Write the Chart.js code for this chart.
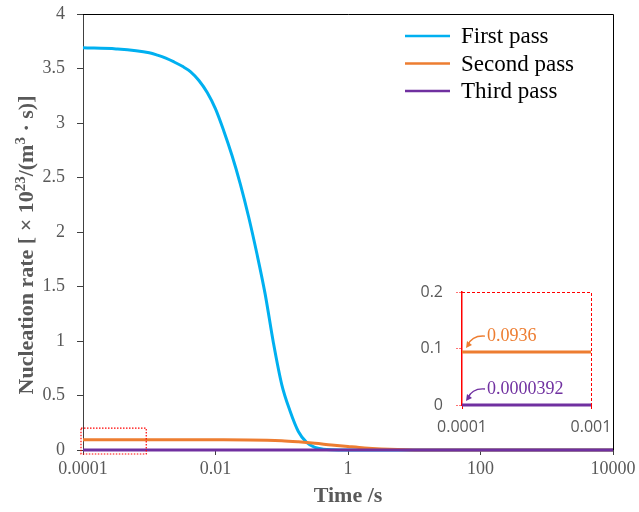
<!DOCTYPE html>
<html>
<head>
<meta charset="utf-8">
<script src="https://cdn.jsdelivr.net/npm/chart.js@4.4.1/dist/chart.umd.min.js"></script>
<style>
  html, body { margin: 0; padding: 0; background: #fff; }
  #wrap { position: relative; width: 639px; height: 512px; }
  #wrap canvas { position: absolute; left: 0; top: 0; }
</style>
</head>
<body>
<div id="wrap">
  <canvas id="main" width="639" height="512"></canvas>
  <canvas id="inset" width="639" height="512"></canvas>
</div>
<script>
// Nucleation rate (×10^23 m^-3 s^-1) against time (s) for each pass
const firstTime = [0.0001, 0.000316, 0.001, 0.00133, 0.00178, 0.00237, 0.00316, 0.00422, 0.00562, 0.0075, 0.01, 0.0133, 0.0178, 0.0237, 0.0316, 0.0422, 0.0562, 0.075, 0.1, 0.133, 0.178, 0.237, 0.316, 0.422, 0.562, 1, 10, 100, 1000, 10000];
const firstRate = [3.69, 3.68, 3.645, 3.623, 3.595, 3.56, 3.52, 3.47, 3.39, 3.28, 3.13, 2.93, 2.70, 2.44, 2.14, 1.80, 1.43, 0.98, 0.60, 0.36, 0.17, 0.07, 0.025, 0.008, 0.002, 0, 0, 0, 0, 0];

const secondTime = [0.0001, 0.001, 0.01, 0.0316, 0.1, 0.178, 0.316, 0.562, 1, 1.78, 3.16, 5.62, 10, 31.6, 100, 1000, 10000];
const secondRate = [0.0936, 0.0936, 0.093, 0.092, 0.085, 0.075, 0.062, 0.046, 0.032, 0.019, 0.010, 0.004, 0.001, 0, 0, 0, 0];

const thirdTime = [0.0001, 0.001, 0.01, 1, 100, 10000];
const thirdRate = [0.0000392, 0.0000392, 0.0000392, 0.0000390, 0.0000385, 0.0000380];

// Main axis ticks
const xTickValues = [0.0001, 0.01, 1, 100, 10000];
const xTickLabels = ['0.0001', '0.01', '1', '100', '10000'];
const yTickValues = [0, 0.5, 1, 1.5, 2, 2.5, 3, 3.5, 4];
const yTickLabels = ['0', '0.5', '1', '1.5', '2', '2.5', '3', '3.5', '4'];

// Inset (close-up of the early-time region) ticks
const insetXTickValues = [0.0001, 0.001];
const insetXTickLabels = ['0.0001', '0.001'];
const insetYTickValues = [0, 0.1, 0.2];
const insetYTickLabels = ['0', '0.1', '0.2'];

const seriesNames = ['First pass', 'Second pass', 'Third pass'];
const seriesColors = ['#00B0F0', '#ED7D31', '#7030A0'];

const SERIF = "'Liberation Serif', 'Times New Roman', serif";
const SANS = "'Open Sans', 'Noto Sans', sans-serif";
const GREY = '#595959';
const RED = '#FF0000';

const pts = (t, v) => t.map((x, i) => ({ x: x, y: v[i] }));

// Black frame on top and right of the plot area
const framePlugin = {
  id: 'frame',
  afterDraw(chart) {
    const a = chart.chartArea, ctx = chart.ctx;
    ctx.save();
    ctx.strokeStyle = '#000';
    ctx.lineWidth = 1;
    ctx.beginPath();
    ctx.moveTo(a.left, a.top + 0.5);
    ctx.lineTo(a.right + 0.5, a.top + 0.5);
    ctx.lineTo(a.right + 0.5, a.bottom);
    ctx.stroke();
    ctx.restore();
  }
};

// Legend in the upper right corner
const legendPlugin = {
  id: 'cornerLegend',
  afterDraw(chart) {
    const a = chart.chartArea, ctx = chart.ctx;
    const x0 = a.right - 208, y0 = a.top + 22, gap = 27.5;
    ctx.save();
    ctx.font = '23px ' + SERIF;
    ctx.textBaseline = 'middle';
    ctx.textAlign = 'left';
    seriesNames.forEach((name, i) => {
      const y = y0 + i * gap;
      ctx.strokeStyle = seriesColors[i];
      ctx.lineWidth = 2.5;
      ctx.beginPath();
      ctx.moveTo(x0, y);
      ctx.lineTo(x0 + 45, y);
      ctx.stroke();
      ctx.fillStyle = '#000';
      ctx.fillText(name, x0 + 56, y + 1);
    });
    ctx.restore();
  }
};

// Vertical axis title with superscripts
const yTitleParts = [
  { text: 'Nucleation rate [ × 10', sup: false },
  { text: '23', sup: true },
  { text: '/(m', sup: false },
  { text: '3', sup: true },
  { text: ' · s)]', sup: false }
];
const yTitlePlugin = {
  id: 'yTitle',
  afterDraw(chart) {
    const ctx = chart.ctx;
    const big = 'bold 22px ' + SERIF, small = 'bold 15px ' + SERIF;
    ctx.save();
    let total = 0;
    yTitleParts.forEach(p => { ctx.font = p.sup ? small : big; total += ctx.measureText(p.text).width; });
    ctx.translate(26, 245);
    ctx.rotate(-Math.PI / 2);
    ctx.fillStyle = GREY;
    ctx.textBaseline = 'alphabetic';
    let x = -total / 2;
    yTitleParts.forEach(p => {
      ctx.font = p.sup ? small : big;
      ctx.fillText(p.text, x, p.sup ? -1 : 7);
      x += ctx.measureText(p.text).width;
    });
    ctx.restore();
  }
};

// Dotted box marking the region shown in the inset
const zoomBoxPlugin = {
  id: 'zoomBox',
  afterDraw(chart) {
    const xs = chart.scales.x, ys = chart.scales.y, ctx = chart.ctx;
    const l = xs.getPixelForValue(insetXTickValues[0]) - 2;
    const r = xs.getPixelForValue(insetXTickValues[insetXTickValues.length - 1]) - 3;
    const t = ys.getPixelForValue(insetYTickValues[insetYTickValues.length - 1]);
    const b = ys.getPixelForValue(insetYTickValues[0]) + 4;
    ctx.save();
    ctx.strokeStyle = RED;
    ctx.lineWidth = 1.2;
    ctx.setLineDash([1.5, 1.5]);
    ctx.strokeRect(l, t, r - l, b - t);
    ctx.restore();
  }
};

new Chart(document.getElementById('main'), {
  type: 'line',
  data: {
    datasets: [
      { label: seriesNames[0], data: pts(firstTime, firstRate), borderColor: seriesColors[0], borderWidth: 3, pointRadius: 0, cubicInterpolationMode: 'monotone', clip: false, order: 2 },
      { label: seriesNames[1], data: pts(secondTime, secondRate), borderColor: seriesColors[1], borderWidth: 3, pointRadius: 0, cubicInterpolationMode: 'monotone', clip: false, order: 1 },
      { label: seriesNames[2], data: pts(thirdTime, thirdRate), borderColor: seriesColors[2], borderWidth: 3, pointRadius: 0, cubicInterpolationMode: 'monotone', clip: false, order: 0 }
    ]
  },
  options: {
    responsive: false,
    animation: false,
    events: [],
    layout: { padding: { top: 14, right: 26, left: 0, bottom: 0 } },
    plugins: { legend: { display: false }, tooltip: { enabled: false } },
    scales: {
      x: {
        type: 'logarithmic', min: 0.0001, max: 10000,
        afterBuildTicks: s => { s.ticks = xTickValues.map(v => ({ value: v })); },
        afterFit: s => { s.height = 62; },
        ticks: {
          callback: (v, i) => xTickLabels[i],
          font: { family: SERIF, size: 18 }, color: GREY,
          padding: 3, maxRotation: 0, autoSkip: false
        },
        grid: { drawOnChartArea: false, tickLength: 5, color: '#404040' },
        border: { color: '#404040', width: 1 },
        title: {
          display: true, text: 'Time /s',
          font: { family: SERIF, size: 22, weight: 'bold' }, color: GREY,
          padding: { top: 0, bottom: 2 }
        }
      },
      y: {
        min: 0, max: 4,
        afterBuildTicks: s => { s.ticks = yTickValues.map(v => ({ value: v })); },
        afterFit: s => { s.width = 83; s.paddingTop = 0; s.paddingBottom = 0; },
        ticks: {
          callback: (v, i) => yTickLabels[i],
          font: { family: SERIF, size: 18 }, color: GREY, padding: 12
        },
        grid: { drawOnChartArea: false, tickLength: 6, color: '#404040' },
        border: { color: '#404040', width: 1 }
      }
    }
  },
  plugins: [framePlugin, legendPlugin, yTitlePlugin, zoomBoxPlugin]
});

// ---------- Inset ----------
const insetMax = insetXTickValues[insetXTickValues.length - 1];
const insetPts = (t, v) => pts(t, v).filter(p => p.x <= insetMax);

// Dashed red top/right edges of the inset
const insetFramePlugin = {
  id: 'insetFrame',
  afterDraw(chart) {
    const a = chart.chartArea, ctx = chart.ctx;
    ctx.save();
    ctx.strokeStyle = RED;
    ctx.lineWidth = 1;
    ctx.setLineDash([3, 2]);
    ctx.beginPath();
    ctx.moveTo(a.left, a.top + 0.5);
    ctx.lineTo(a.right + 0.5, a.top + 0.5);
    ctx.lineTo(a.right + 0.5, a.bottom);
    ctx.stroke();
    ctx.restore();
  }
};

// Value callouts with curved arrows at the start of each line
const calloutPlugin = {
  id: 'callouts',
  afterDraw(chart) {
    const xs = chart.scales.x, ys = chart.scales.y, ctx = chart.ctx;
    ctx.save();
    ctx.font = '18px ' + SERIF;
    ctx.textBaseline = 'middle';
    ctx.textAlign = 'left';
    chart.data.datasets.forEach(ds => {
      const p = ds.data[0];
      const x0 = xs.getPixelForValue(p.x);
      const y = ys.getPixelForValue(p.y);
      const color = ds.borderColor;
      const sx = x0 + 23, sy = y - 16, tx = x0 + 4, ty = y - 4;
      ctx.strokeStyle = color;
      ctx.fillStyle = color;
      ctx.lineWidth = 1.3;
      ctx.beginPath();
      ctx.moveTo(sx, sy);
      ctx.quadraticCurveTo(x0 + 10, sy - 1, tx + 2, ty - 3);
      ctx.stroke();
      // arrow head
      ctx.beginPath();
      ctx.moveTo(tx, ty);
      ctx.lineTo(tx + 1, ty - 7);
      ctx.lineTo(tx + 6, ty - 3);
      ctx.closePath();
      ctx.fill();
      ctx.fillText(String(p.y), x0 + 25, y - 16);
    });
    ctx.restore();
  }
};

new Chart(document.getElementById('inset'), {
  type: 'line',
  data: {
    datasets: [
      { label: seriesNames[2], data: insetPts(thirdTime, thirdRate), borderColor: seriesColors[2], borderWidth: 3, pointRadius: 0, clip: false },
      { label: seriesNames[1], data: insetPts(secondTime, secondRate), borderColor: seriesColors[1], borderWidth: 3, pointRadius: 0, clip: false }
    ]
  },
  options: {
    responsive: false,
    animation: false,
    events: [],
    layout: { padding: { top: 292, right: 48, left: 0, bottom: 0 } },
    plugins: { legend: { display: false }, tooltip: { enabled: false } },
    scales: {
      x: {
        type: 'logarithmic', min: insetXTickValues[0], max: insetMax,
        afterBuildTicks: s => { s.ticks = insetXTickValues.map(v => ({ value: v })); },
        afterFit: s => { s.height = 107; },
        ticks: {
          callback: (v, i) => insetXTickLabels[i],
          font: { family: SANS, size: 16 }, color: GREY,
          padding: 9, maxRotation: 0, autoSkip: false
        },
        grid: { drawOnChartArea: false, tickLength: 4, color: RED },
        border: { color: RED, width: 1 }
      },
      y: {
        min: insetYTickValues[0], max: insetYTickValues[insetYTickValues.length - 1],
        afterBuildTicks: s => { s.ticks = insetYTickValues.map(v => ({ value: v })); },
        afterFit: s => { s.width = 462; },
        ticks: {
          callback: (v, i) => insetYTickLabels[i],
          font: { family: SANS, size: 16 }, color: GREY, padding: 13
        },
        grid: { drawOnChartArea: false, tickLength: 6, color: 'rgba(255,0,0,0.55)', tickBorderDash: [2, 1] },
        border: { color: RED, width: 1.5 }
      }
    }
  },
  plugins: [insetFramePlugin, calloutPlugin]
});
</script>
</body>
</html>
